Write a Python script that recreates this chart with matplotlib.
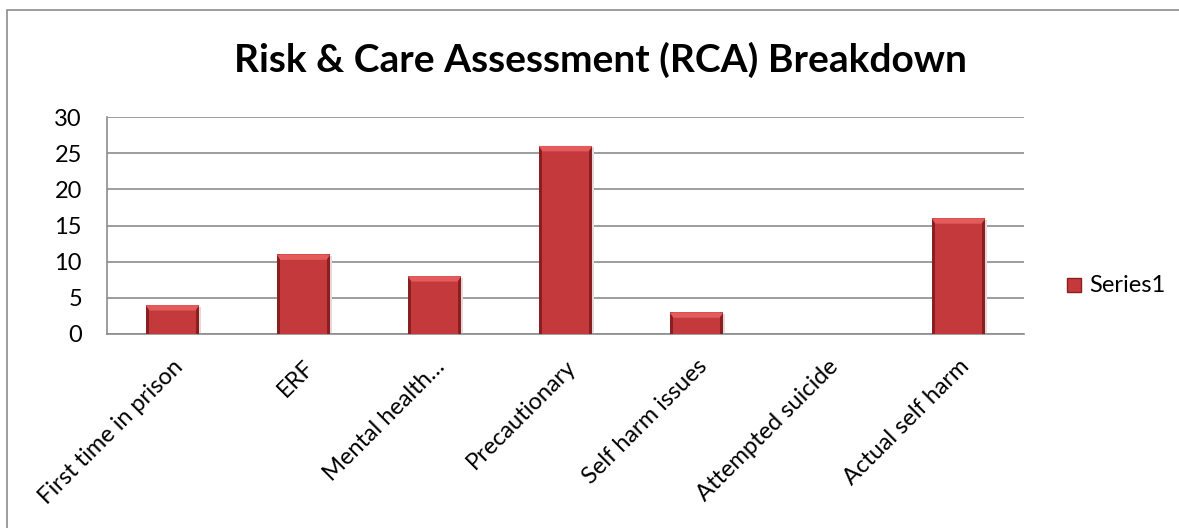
import matplotlib
matplotlib.use("Agg")
import matplotlib.pyplot as plt
import matplotlib.transforms as mtransforms
from matplotlib.patches import Polygon, Rectangle
import numpy as np

categories = ["First time in prison", "ERF", "Mental health\u2026", "Precautionary",
              "Self harm issues", "Attempted suicide", "Actual self harm"]
values = [4, 11, 8, 26, 3, 0, 16]
yticks = [0, 5, 10, 15, 20, 25, 30]
series_name = "Series1"
title = "Risk & Care Assessment (RCA) Breakdown"

plt.rcParams["font.family"] = ["Lato", "DejaVu Sans"]

W, H = 1179, 528
fig = plt.figure(figsize=(W / 100, H / 100), dpi=100)

# outer chart border (runs off right/bottom like the original crop)
fig.patches.append(Rectangle((7 / W, -0.1), 1.2, 1 - 10 / H + 0.1,
                             transform=fig.transFigure, fill=False,
                             edgecolor="#8c8c8c", linewidth=1.2))

ax = fig.add_axes([107 / W, 1 - 334 / H, (1024 - 107) / W, (334 - 117) / H])
x = np.arange(len(categories))
bw = 0.41

dark = "#8a1f21"
mid = "#c43a3c"
light = "#e35b5b"

ax.bar(x, values, width=bw, color=dark, edgecolor="none", zorder=3)
ax.bar(x, values, width=bw * 0.86, color=mid, edgecolor="none", zorder=4)
# top bevel + soft shadow drawn from each bar's value
bevel = 0.75
for xi, v in zip(x, values):
    if v <= 0:
        continue
    l, r = xi - bw / 2, xi + bw / 2
    li, ri = xi - bw * 0.43, xi + bw * 0.43
    b = min(bevel, v * 0.35)
    ax.add_patch(Polygon([(l, v), (r, v), (ri, v - b), (li, v - b)],
                         closed=True, facecolor=light, edgecolor="none", zorder=5))
    ax.add_patch(Rectangle((r, 0), bw * 0.03, v - 0.2, facecolor="#e6d8d8",
                           edgecolor="none", zorder=2))

ax.set_xlim(-0.5, len(categories) - 0.5)
ax.set_ylim(0, 30)
ax.set_yticks(yticks)
ax.set_yticklabels([str(t) for t in yticks], fontsize=17)
ax.set_xticks(x)
ax.set_xticklabels([])

# category labels, rotated 45 deg, top-right end just under the tick
shift = mtransforms.ScaledTranslation(0, -22 / 100, fig.dpi_scale_trans)
trans = ax.get_xaxis_transform() + shift
for xi, lab in zip(x, categories):
    ax.text(xi, 0, lab, transform=trans, rotation=45, ha="right", va="top",
            rotation_mode="anchor", fontsize=17, clip_on=False)

ax.tick_params(axis="both", length=0)
ax.tick_params(axis="y", pad=18)
ax.grid(axis="y", color="#8c8c8c", linewidth=1.2, zorder=0)
for side in ["top", "right"]:
    ax.spines[side].set_visible(False)
for side in ["left", "bottom"]:
    ax.spines[side].set_color("#8c8c8c")
    ax.spines[side].set_linewidth(1.2)

fig.text(600 / W, 1 - 60 / H, title, ha="center", va="center",
         fontsize=28, fontweight="bold")

# legend
fig.patches.append(Rectangle((1067 / W, 1 - 292 / H), 14 / W, 14 / H,
                             transform=fig.transFigure, facecolor=mid,
                             edgecolor=dark, linewidth=1))
fig.text(1089 / W, 1 - 285 / H, series_name, ha="left", va="center", fontsize=17)

fig.savefig("out.png", dpi=100)
